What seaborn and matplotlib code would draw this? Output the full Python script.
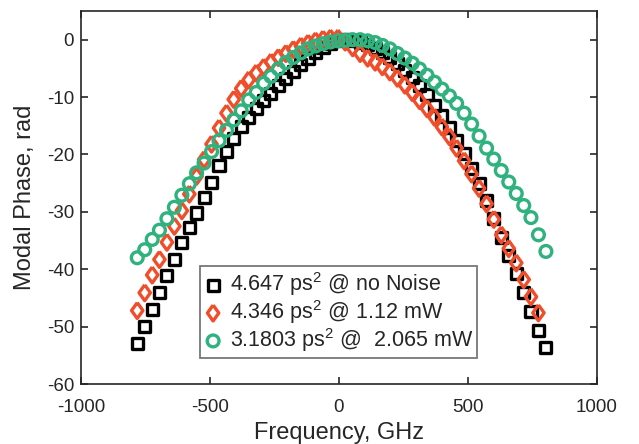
import numpy as np
import pandas as pd
import matplotlib
matplotlib.use("Agg")
import matplotlib.pyplot as plt
import seaborn as sns

# frequency grid, GHz
freq = [-782, -753, -724, -696, -667, -638, -609, -580, -552, -523,
        -494, -465, -436, -408, -379, -350, -321, -292, -264, -235,
        -206, -177, -148, -120, -91, -62, -33, -4, 24, 53,
        82, 111, 140, 168, 197, 226, 255, 284, 312, 341,
        370, 399, 428, 456, 485, 514, 543, 572, 600, 629,
        658, 687, 716, 744, 773, 802]

# modal phase, rad
phase_no_noise = [-53.0, -50.0, -47.0, -44.0, -41.1, -38.3, -35.4, -32.8, -30.2, -27.5,
                  -24.9, -22.0, -19.5, -17.2, -15.2, -13.5, -12.0, -10.6, -9.3, -8.0,
                  -6.8, -5.6, -4.4, -3.3, -2.3, -1.4, -0.6, -0.1, 0.0, -0.1,
                  -0.4, -0.9, -1.5, -2.2, -3.1, -4.1, -5.3, -6.6, -8.0, -9.6,
                  -11.5, -13.3, -15.3, -17.5, -19.9, -22.4, -25.0, -28.0, -31.2, -34.4,
                  -37.6, -40.8, -44.0, -47.3, -50.6, -53.6]

phase_1mw = [-47.2, -44.1, -41.0, -38.3, -35.3, -32.5, -29.8, -26.9, -23.8, -20.9,
             -18.2, -15.4, -12.8, -10.4, -8.5, -7.0, -5.8, -4.8, -3.9, -3.1,
             -2.4, -1.7, -1.1, -0.6, -0.2, 0.1, 0.3, 0.3, -0.4, -1.4,
             -2.4, -3.2, -3.9, -4.7, -5.6, -6.7, -7.9, -9.2, -10.6, -12.0,
             -13.5, -15.2, -16.9, -18.9, -21.1, -23.4, -25.9, -28.6, -31.3, -34.0,
             -36.4, -38.9, -41.8, -44.8, -47.6]

phase_2mw = [-38.0, -36.6, -34.8, -33.2, -31.2, -29.2, -27.1, -25.1, -23.2, -21.5,
             -19.5, -17.6, -15.8, -14.0, -12.4, -10.5, -9.2, -7.6, -6.4, -5.1,
             -4.0, -3.1, -2.3, -1.6, -1.1, -0.7, -0.4, -0.2, -0.1, 0.0,
             0.0, -0.2, -0.5, -1.0, -1.6, -2.4, -3.2, -4.1, -5.1, -6.2,
             -7.4, -8.6, -9.8, -11.1, -12.8, -14.7, -16.8, -18.9, -20.8, -22.8,
             -24.8, -26.8, -28.9, -31.0, -34.0, -36.9]

labels = [r"4.647 ps$^2$ @ no Noise",
          r"4.346 ps$^2$ @ 1.12 mW",
          r"3.1803 ps$^2$ @  2.065 mW"]

sns.set_style("ticks")
plt.rcParams["font.family"] = ["Liberation Sans", "DejaVu Sans"]
plt.rcParams["mathtext.fontset"] = "custom"
plt.rcParams["mathtext.rm"] = "Liberation Sans"
plt.rcParams["mathtext.it"] = "Liberation Sans"
plt.rcParams["axes.unicode_minus"] = False

axc = "#262626"
# MATLAB-style diamond, a bit taller than wide
diamond = [(0, 1), (0.72, 0), (0, -1), (-0.72, 0), (0, 1)]

fig = plt.figure(figsize=(6.39, 4.44), dpi=100)
ax = fig.add_axes([81 / 639, 60 / 444, 516 / 639, 373 / 444])

sns.scatterplot(x=freq, y=phase_no_noise, marker="s", s=64, facecolor="none",
                edgecolor="black", linewidth=2.4, label=labels[0], ax=ax, zorder=3)
sns.scatterplot(x=freq[:len(phase_1mw)], y=phase_1mw, marker=diamond, s=130, facecolor="none",
                edgecolor="#F04E2A", linewidth=2.4, label=labels[1], ax=ax, zorder=4)
sns.scatterplot(x=freq, y=phase_2mw, marker="o", s=72, facecolor="none",
                edgecolor="#30B27E", linewidth=2.4, label=labels[2], ax=ax, zorder=5)

ax.set_xlim(-1000, 1000)
ax.set_ylim(-60, 5)
ax.set_xticks([-1000, -500, 0, 500, 1000])
ax.set_yticks([-60, -50, -40, -30, -20, -10, 0])
ax.tick_params(direction="in", length=5, width=1.2, colors=axc, labelsize=13.5,
               top=True, right=True, labelcolor=axc)
ax.tick_params(axis="y", pad=5)
ax.tick_params(axis="x", pad=11)
for sp in ax.spines.values():
    sp.set_visible(True)
    sp.set_linewidth(1.2)
    sp.set_color(axc)
ax.set_xlabel("Frequency, GHz", fontsize=17, color=axc, labelpad=4)
ax.set_ylabel("Modal Phase, rad", fontsize=17, color=axc, labelpad=8)

leg = ax.legend(loc="lower left", bbox_to_anchor=(0.231, 0.07, 0.536, 0.241),
                fontsize=15.5, frameon=True, fancybox=False, borderpad=0.2,
                handlelength=0.8, handletextpad=0.4, labelspacing=0.0,
                mode="expand", borderaxespad=0)
leg.get_frame().set_edgecolor("#555555")
leg.get_frame().set_linewidth(1.3)

fig.savefig("out.png", dpi=100)
